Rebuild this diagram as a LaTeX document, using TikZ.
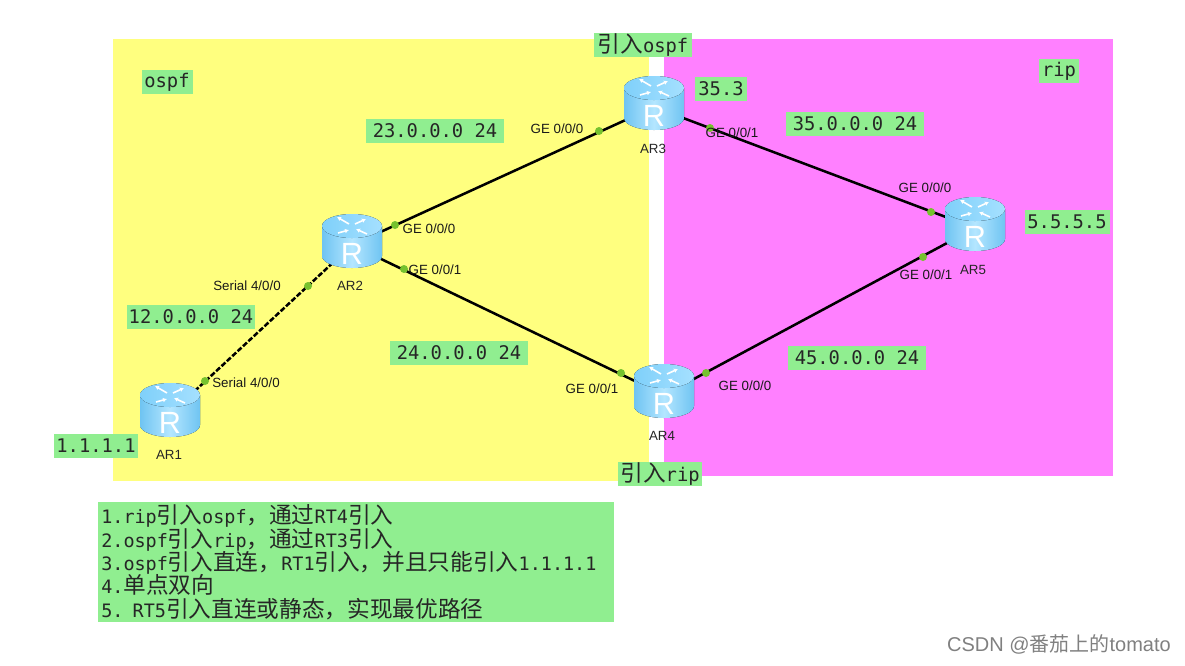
\documentclass[tikz,border=0pt]{standalone}
\usepackage{fontspec}
\setmainfont{Liberation Sans}
\newfontfamily\monof{DejaVu Sans Mono}
\newfontfamily\cjk{Noto Sans CJK SC}
\newcommand{\Cj}[1]{{\cjk\fontsize{17pt}{17pt}\selectfont #1}}
\definecolor{yel}{HTML}{FFFF7F}
\definecolor{mag}{HTML}{FF80FF}
\definecolor{lab}{HTML}{90EE90}
\definecolor{dotg}{HTML}{76C22E}
\definecolor{wm}{HTML}{808080}
\definecolor{rsideA}{HTML}{6FC4F2}
\definecolor{rsideB}{HTML}{B4E6FF}
\definecolor{rtopA}{HTML}{7FD0FA}
\definecolor{rtopB}{HTML}{A5E0FF}
\tikzset{
  x=0.75pt,y=-0.75pt,
  zone/.style={fill=#1,draw=none},
  tag/.style={fill=lab,inner sep=0pt,minimum height=24*0.75pt,anchor=center,font=\monof\fontsize{14.1pt}{15pt}\selectfont,text=black!85},
  routerbox/.style={ellipse,minimum width=60*0.75pt,minimum height=50*0.75pt,inner sep=0pt,draw=none},
  rname/.style={font=\fontsize{10pt}{11pt}\selectfont,text=black!85},
  port/.style={font=\fontsize{10pt}{11pt}\selectfont,text=black!90},
  pdot/.style={circle,fill=dotg,minimum size=8*0.75pt,inner sep=0pt,draw=none},
  link/.style={draw=black,line width=1.9pt,shorten >=-1pt,shorten <=-1pt},
  routerpic/.pic={
    \fill[left color=rsideA,right color=rsideA,middle color=rsideB]
      (-30,-19) -- (-30,11) arc[start angle=180,end angle=360,x radius=22.5pt,y radius=9pt] -- (30,-19) -- cycle;
    \fill[left color=rtopA,right color=rtopB]
      (0,-19) ellipse[x radius=22.5pt,y radius=9pt];
    \begin{scope}[white,line width=1.2pt,-{Latex[length=3pt,width=3.5pt]}]
      \draw (-3,-21) -- (-15,-28);
      \draw (3,-21) -- (14,-26);
      \draw (-14,-12) -- (-3,-15);
      \draw (15,-11) -- (4,-16);
    \end{scope}
    \node[text=white,font=\fontsize{23pt}{23pt}\selectfont,inner sep=0pt] at (0,9) {R};
  },
}
\usetikzlibrary{shapes.geometric,arrows.meta}
\begin{document}
\begin{tikzpicture}
\useasboundingbox (0,0) rectangle (1185,665);
\fill[zone=yel] (113,39) rectangle (649,481);
\fill[zone=mag] (664,39) rectangle (1113,476);

\node[routerbox] (ar1) at (170,414) {};
\node[routerbox] (ar2) at (352,245) {};
\node[routerbox] (ar3) at (654,107) {};
\node[routerbox] (ar4) at (664,395) {};
\node[routerbox] (ar5) at (975,228) {};

\draw[link,dashed,dash pattern=on 4pt off 1.5pt] (ar1) -- (ar2);
\draw[link] (ar2) -- (ar3);
\draw[link] (ar2) -- (ar4);
\draw[link] (ar3) -- (ar5);
\draw[link] (ar4) -- (ar5);

\pic at (ar1) {routerpic};
\pic at (ar2) {routerpic};
\pic at (ar3) {routerpic};
\pic at (ar4) {routerpic};
\pic at (ar5) {routerpic};

\node[rname] (n1) at (169,455) {AR1};
\node[rname] (n2) at (350,286) {AR2};
\node[rname] (n3) at (653,149) {AR3};
\node[rname] (n4) at (662,436) {AR4};
\node[rname] (n5) at (973,270) {AR5};

\node[pdot] (d1) at (205,381) {};
\node[pdot] (d2) at (308,286) {};
\node[pdot] (d3) at (395,225) {};
\node[pdot] (d4) at (599,131) {};
\node[pdot] (d5) at (404,269) {};
\node[pdot] (d6) at (621,373) {};
\node[pdot] (d7) at (706,373) {};
\node[pdot] (d8) at (923,257) {};
\node[pdot] (d9) at (931,212) {};
\node[pdot] (d10) at (710,128) {};

\node[port] (p1) at (246,383) {Serial 4/0/0};
\node[port] (p2) at (247,286) {Serial 4/0/0};
\node[port] (p3) at (429,229) {GE 0/0/0};
\node[port] (p4) at (557,129) {GE 0/0/0};
\node[port] (p5) at (435,270) {GE 0/0/1};
\node[port] (p6) at (592,389) {GE 0/0/1};
\node[port] (p7) at (745,386) {GE 0/0/0};
\node[port] (p8) at (926,275) {GE 0/0/1};
\node[port] (p9) at (925,188) {GE 0/0/0};
\node[port] (p10) at (732,133) {GE 0/0/1};

\node[tag,minimum width=51*0.75pt] (t1) at (167,82) {ospf};
\node[tag,minimum width=40*0.75pt] (t2) at (1059,71) {rip};
\node[tag,minimum width=98*0.75pt] (t3) at (643,45) {\Cj{引入}ospf};
\node[tag,minimum width=52*0.75pt] (t4) at (721,89) {35.3};
\node[tag,minimum width=138*0.75pt] (t5) at (435,131) {23.0.0.0 24};
\node[tag,minimum width=138*0.75pt] (t6) at (855,124) {35.0.0.0 24};
\node[tag,minimum width=85*0.75pt] (t7) at (1067,222) {5.5.5.5};
\node[tag,minimum width=128*0.75pt] (t8) at (191,317) {12.0.0.0 24};
\node[tag,minimum width=138*0.75pt] (t9) at (459,353) {24.0.0.0 24};
\node[tag,minimum width=138*0.75pt] (t10) at (857,358) {45.0.0.0 24};
\node[tag,minimum width=84*0.75pt] (t11) at (96,446) {1.1.1.1};
\node[tag,minimum width=84*0.75pt] (t12) at (660,474) {\Cj{引入}rip};

\node[fill=lab,inner sep=0pt,anchor=north west,minimum width=516*0.75pt,minimum height=120*0.75pt,text width=510*0.75pt,align=left,
  execute at begin node={\lineskiplimit=-30pt\relax},
  font=\monof\fontsize{13.85pt}{17.5pt}\selectfont,text=black!85] (notes) at (98,502)
{1.rip\Cj{引入}ospf\Cj{，通过}RT4\Cj{引入}\\
2.ospf\Cj{引入}rip\Cj{，通过}RT3\Cj{引入}\\
3.ospf\Cj{引入直连，}RT1\Cj{引入，并且只能引入}1.1.1.1\\
4.\Cj{单点双向}\\
5. RT5\Cj{引入直连或静态，实现最优路径}};

\node[anchor=east,text=wm,inner sep=0pt,font=\fontsize{15pt}{16pt}\selectfont] (wmark) at (1171,644)
{CSDN @{\cjk 番茄上的}tomato};
\end{tikzpicture}
\end{document}
